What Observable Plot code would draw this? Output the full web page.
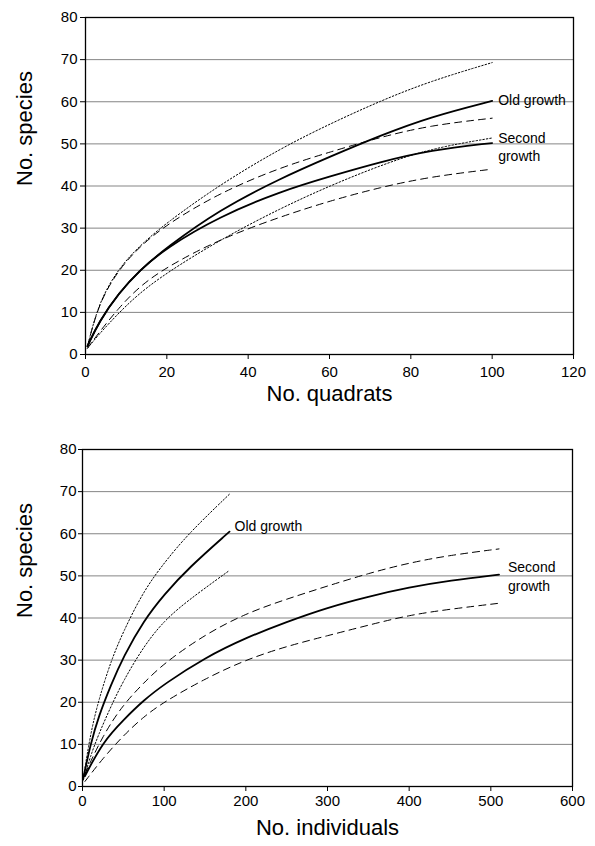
<!DOCTYPE html>
<html><head><meta charset="utf-8">
<script src="https://cdn.jsdelivr.net/npm/d3@7"></script>
<script src="https://cdn.jsdelivr.net/npm/@observablehq/plot@0.6"></script>
<style>body{margin:0;background:#fff;} #chart svg{display:block;}</style>
</head><body><div id="chart"></div>
<script>
// ---- Top panel: species vs number of quadrats ----
const quadrats   = [0.5, 3.3, 8.2, 13.2, 19.8, 33, 47.9, 60.2, 72.5, 84.8, 100];
const oldQ       = [2, 7.8, 14.6, 19.9, 25.3, 34.4, 41.8, 47.0, 52.0, 56.4, 60.2];
const oldQUpper  = [2, 12.5, 20.5, 25.7, 31.2, 40.3, 48.9, 54.8, 60.2, 64.9, 69.3];
const oldQLower  = [1.5, 4.8, 9.9, 14.5, 19.3, 27.2, 34.7, 40.1, 44.9, 48.9, 51.4];
const secQ       = [2, 7.8, 14.6, 19.9, 25.3, 32.8, 38.7, 42.3, 45.7, 48.5, 50.2];
const secQUpper  = [2, 12.3, 20.2, 25.5, 30.8, 38.4, 44.4, 48.1, 51.6, 54.4, 56.1];
const secQLower  = [1.5, 5.2, 11.1, 16.1, 20.7, 27.4, 32.7, 36.5, 39.7, 42.2, 44];

// ---- Bottom panel: species vs number of individuals ----
const indOld     = [1, 10, 20, 35, 50, 75, 100, 130, 180];
const oldI       = [2, 10.2, 16.8, 24.2, 30.8, 39.4, 45.6, 51.9, 60.5];
const oldIUpper  = [2, 12.8, 20.7, 29.9, 36.8, 46.5, 53.1, 60.1, 69.4];
const oldILower  = [1.5, 7.4, 12.5, 19.1, 25.1, 33.3, 39.4, 44.3, 51.3];
const indSec     = [3, 25, 50, 75, 100, 150, 200, 250, 300, 350, 400, 450, 510];
const secI       = [2.5, 10.6, 15.8, 20.5, 24.3, 30.6, 35.3, 39.1, 42.5, 45.1, 47.3, 48.9, 50.3];
const secIUpper  = [3, 12.2, 19.5, 24.6, 29.3, 36.1, 41.1, 44.5, 47.6, 50.6, 53.1, 54.9, 56.4];
const secILower  = [1.2, 6.7, 12.1, 16.6, 20.1, 25.6, 30.1, 33.3, 35.8, 38.3, 40.7, 42.1, 43.5];

const yTicks = [0, 10, 20, 30, 40, 50, 60, 70, 80];
const gridVals = [10, 20, 30, 40, 50, 60, 70];
const xTicksTop = [0, 20, 40, 60, 80, 100, 120];
const xTicksBottom = [0, 100, 200, 300, 400, 500, 600];
const yTitle = "No. species";
const xTitleTop = "No. quadrats";
const xTitleBottom = "No. individuals";
const labelOld = "Old growth";
const labelSec = "Second\ngrowth";

const font = "'Liberation Sans', Arial, Helvetica, sans-serif";
const rows = (xs, ys) => xs.map((x, i) => ({x, y: ys[i]}));
const curve = "basis";

function panel(o) {
  return Plot.plot({
    width: 595, height: o.height,
    marginTop: o.mt, marginBottom: o.mb, marginLeft: o.ml, marginRight: o.mr,
    style: {fontFamily: font, fontSize: "15px", color: "black", background: "white"},
    x: {domain: o.xDomain, ticks: o.xTicks, tickSize: 5, tickPadding: o.xPad, label: null, tickFormat: d => String(d)},
    y: {domain: [0, 80], ticks: yTicks, tickSize: o.yTickSize, tickPadding: o.yPad, label: null, tickFormat: d => String(d)},
    marks: [
      Plot.ruleY(gridVals, {stroke: "#858585", strokeWidth: 1}),
      Plot.line(o.oldUpper, {x: "x", y: "y", curve, stroke: "black", strokeWidth: 1, strokeDasharray: "1.5,2"}),
      Plot.line(o.oldLower, {x: "x", y: "y", curve, stroke: "black", strokeWidth: 1, strokeDasharray: "1.5,2"}),
      Plot.line(o.secUpper, {x: "x", y: "y", curve, stroke: "black", strokeWidth: 1, strokeDasharray: "7,5"}),
      Plot.line(o.secLower, {x: "x", y: "y", curve, stroke: "black", strokeWidth: 1, strokeDasharray: "7,5"}),
      Plot.line(o.old, {x: "x", y: "y", curve, stroke: "black", strokeWidth: 1.8}),
      Plot.line(o.sec, {x: "x", y: "y", curve, stroke: "black", strokeWidth: 1.8}),
      Plot.text([o.old[o.old.length - 1]], {x: "x", y: "y", text: () => labelOld, textAnchor: "start", dx: o.oldDx, dy: o.oldDy, fontSize: 14, fill: "black"}),
      Plot.text([o.sec[o.sec.length - 1]], {x: "x", y: "y", text: () => labelSec, textAnchor: "start", lineAnchor: "middle", lineHeight: 1.33, dx: o.secDx, dy: o.secDy, fontSize: 14, fill: "black"}),
      Plot.frame({stroke: "black", strokeWidth: 1.3}),
      Plot.text([o.xTitle], {frameAnchor: "bottom", dy: o.xTitleDy, fontSize: 22, fill: "black"}),
      Plot.text([yTitle], {frameAnchor: "left", rotate: -90, dx: o.yTitleDx, fontSize: 22, fill: "black"})
    ]
  });
}

const topPanel = panel({
  height: 420, mt: 17, mb: 66, ml: 85, mr: 22,
  xDomain: [0, 120], xTicks: xTicksTop, xPad: 7, yTickSize: 5, yPad: 3,
  old: rows(quadrats, oldQ), oldUpper: rows(quadrats, oldQUpper), oldLower: rows(quadrats, oldQLower),
  sec: rows(quadrats, secQ), secUpper: rows(quadrats, secQUpper), secLower: rows(quadrats, secQLower),
  oldDx: 6, oldDy: 0, secDx: 6, secDy: 3,
  xTitle: xTitleTop, xTitleDy: 46, yTitleDx: -61
});
const bottomPanel = panel({
  height: 426, mt: 29, mb: 60, ml: 82, mr: 23,
  xDomain: [0, 600], xTicks: xTicksBottom, xPad: 4, yTickSize: 4, yPad: 2,
  old: rows(indOld, oldI), oldUpper: rows(indOld, oldIUpper), oldLower: rows(indOld, oldILower),
  sec: rows(indSec, secI), secUpper: rows(indSec, secIUpper), secLower: rows(indSec, secILower),
  oldDx: 5, oldDy: -5, secDx: 9, secDy: 1,
  xTitle: xTitleBottom, xTitleDy: 48, yTitleDx: -58
});
document.getElementById("chart").append(topPanel, bottomPanel);
</script>
</body></html>
